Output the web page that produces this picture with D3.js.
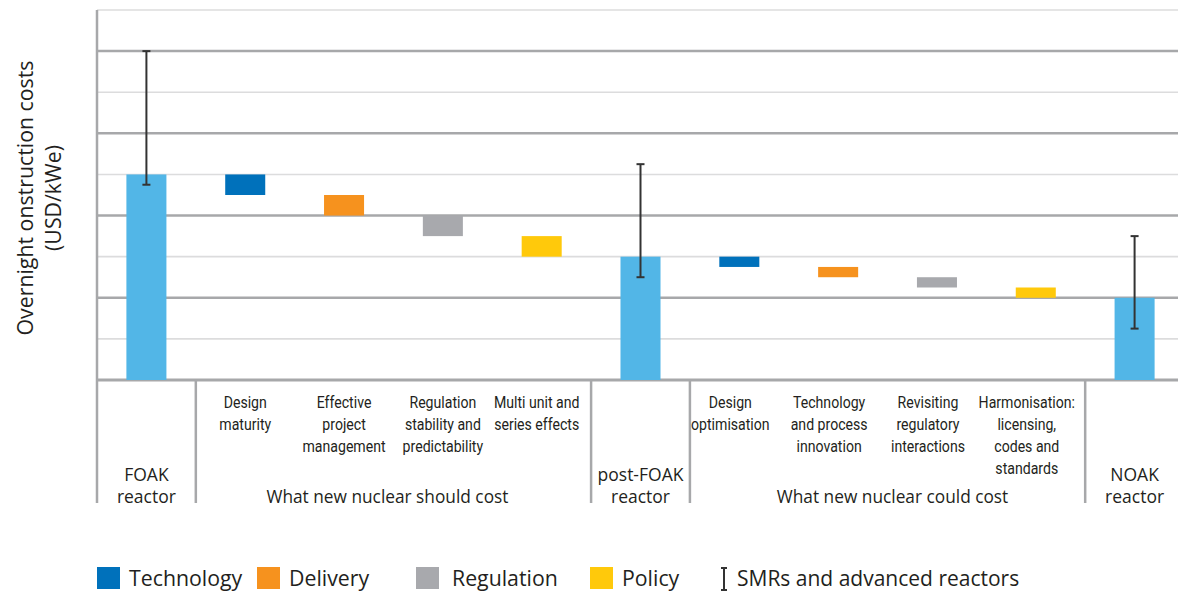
<!DOCTYPE html>
<html>
<head>
<meta charset="utf-8">
<script src="https://cdn.jsdelivr.net/npm/d3@7"></script>
<style>
  body { margin: 0; background: #fff; }
  svg { display: block; }
  .narrow { font-family: Roboto, "Noto Sans", sans-serif; font-size: 17px; fill: #231f20; }
  .reg { font-family: "Open Sans", "Noto Sans", sans-serif; fill: #231f20; }
</style>
</head>
<body>
<svg id="chart" width="1178" height="593"></svg>
<script>
// categories, each label split into lines
var categories = ["FOAK", "DesignMaturity", "ProjectMgmt", "RegStability", "MultiUnit",
                  "postFOAK", "DesignOpt", "TechInnovation", "RegInteractions", "Harmonisation", "NOAK"];
var labelLines = [
  [],
  ["Design", "maturity"],
  ["Effective", "project", "management"],
  ["Regulation", "stability and", "predictability"],
  ["Multi unit  and", "series effects"],
  [],
  ["Design", "optimisation"],
  ["Technology", "and process", "innovation"],
  ["Revisiting", "regulatory", "interactions"],
  ["Harmonisation:", "licensing,", "codes and", "standards"],
  []
];
var reactorLabels = [["FOAK", "reactor"], ["post-FOAK", "reactor"], ["NOAK", "reactor"]];
var groupLabels = ["What new nuclear should cost", "What new nuclear could cost"];

// bar values (arbitrary cost units, waterfall start / end)
var barStart = [0, 5.0, 4.5, 4.0, 3.5, 0, 3.0, 2.75, 2.5, 2.25, 0];
var barEnd   = [5.0, 4.5, 4.0, 3.5, 3.0, 3.0, 2.75, 2.5, 2.25, 2.0, 2.0];
var driver   = ["Reactor", "Technology", "Delivery", "Regulation", "Policy", "Reactor",
                "Technology", "Delivery", "Regulation", "Policy", "Reactor"];
// SMRs and advanced reactors ranges
var errLow  = [4.75, null, null, null, null, 2.5, null, null, null, null, 1.25];
var errHigh = [8.0, null, null, null, null, 5.25, null, null, null, null, 3.5];

var legendItems = ["Technology", "Delivery", "Regulation", "Policy"];

var colors = {
  Reactor: "#52b6e7",
  Technology: "#0071bb",
  Delivery: "#f6921e",
  Regulation: "#a8a9ad",
  Policy: "#ffc90b"
};

var svg = d3.select("#chart");
var plotTop = 10, base = 380, left = 97, right = 1178;

var x = d3.scaleBand()
    .domain(categories)
    .range([left, 1184])
    .paddingInner(0.595)
    .paddingOuter(0.2975);

var y = d3.scaleLinear()
    .domain([0, 9])
    .range([base, plotTop]);

// gridlines
var ticks = d3.range(0, 10);
svg.append("g").selectAll("line")
    .data(ticks)
  .enter().append("line")
    .attr("x1", left).attr("x2", right)
    .attr("y1", function(d) { return y(d); })
    .attr("y2", function(d) { return y(d); })
    .attr("stroke", function(d) { return d % 2 === 0 ? "#a7a8aa" : "#dcdcdd"; })
    .attr("stroke-width", function(d) { return d === 0 ? 3 : (d % 2 === 0 ? 2.5 : 1.6); });

// left axis + separators below
var step = x.step();
var seps = [1, 5, 6, 10];
svg.append("line")
    .attr("x1", left).attr("x2", left)
    .attr("y1", plotTop).attr("y2", 503)
    .attr("stroke", "#a7a8aa").attr("stroke-width", 2.5);
svg.append("g").selectAll("line")
    .data(seps)
  .enter().append("line")
    .attr("x1", function(i) { return x(categories[i]) - (step - x.bandwidth()) / 2; })
    .attr("x2", function(i) { return x(categories[i]) - (step - x.bandwidth()) / 2; })
    .attr("y1", base).attr("y2", 503)
    .attr("stroke", "#a7a8aa").attr("stroke-width", 2.5);

// bars
svg.append("g").selectAll("rect")
    .data(categories)
  .enter().append("rect")
    .attr("x", function(d) { return x(d); })
    .attr("width", x.bandwidth())
    .attr("y", function(d, i) { return y(Math.max(barStart[i], barEnd[i])); })
    .attr("height", function(d, i) { return Math.abs(y(barStart[i]) - y(barEnd[i])); })
    .attr("fill", function(d, i) { return colors[driver[i]]; });

// error bars
var eb = svg.append("g").attr("stroke", "#333").attr("stroke-width", 2);
categories.forEach(function(c, i) {
  if (errLow[i] == null) return;
  var cx = x(c) + x.bandwidth() / 2;
  eb.append("line").attr("x1", cx).attr("x2", cx).attr("y1", y(errLow[i])).attr("y2", y(errHigh[i]));
  eb.append("line").attr("x1", cx - 4).attr("x2", cx + 4).attr("y1", y(errLow[i])).attr("y2", y(errLow[i]));
  eb.append("line").attr("x1", cx - 4).attr("x2", cx + 4).attr("y1", y(errHigh[i])).attr("y2", y(errHigh[i]));
});

// category labels (condensed look via horizontal scale); second group sits a bit left
categories.forEach(function(c, i) {
  var shift = (i >= 6 && i <= 9) ? -9 : (i === 4 ? -5 : 0);
  var cx = x(c) + x.bandwidth() / 2 + shift;
  var t = svg.append("text").attr("class", "narrow").attr("text-anchor", "middle")
      .attr("transform", "translate(" + cx + ",0) scale(0.83,1)");
  labelLines[i].forEach(function(line, j) {
    t.append("tspan").attr("x", 0).attr("y", 408 + j * 22).text(line);
  });
});

// reactor labels
[0, 5, 10].forEach(function(ci, k) {
  var cx = x(categories[ci]) + x.bandwidth() / 2;
  var t = svg.append("text").attr("class", "reg").attr("font-size", 17.5).attr("text-anchor", "middle");
  reactorLabels[k].forEach(function(line, j) {
    t.append("tspan").attr("x", cx).attr("y", 481 + j * 22).text(line);
  });
});

// group labels
var groupShift = [-6, 5];
[[1, 4], [6, 9]].forEach(function(r, k) {
  var cx = (x(categories[r[0]]) + x(categories[r[1]]) + x.bandwidth()) / 2 + groupShift[k];
  svg.append("text").attr("class", "reg").attr("font-size", 17.3)
    .attr("text-anchor", "middle").attr("x", cx).attr("y", 503).text(groupLabels[k]);
});

// y axis title
var yt = svg.append("text").attr("class", "reg").attr("font-size", 21.3)
    .attr("text-anchor", "middle")
    .attr("transform", "translate(0,198) rotate(-90)");
yt.append("tspan").attr("x", 0).attr("y", 33).text("Overnight onstruction costs");
yt.append("tspan").attr("x", 0).attr("y", 61).text("(USD/kWe)");

// legend
var legX = [97, 257, 416, 590];
var lg = svg.append("g");
legendItems.forEach(function(name, i) {
  lg.append("rect").attr("x", legX[i]).attr("y", 567).attr("width", 23).attr("height", 22)
    .attr("fill", colors[name]);
  lg.append("text").attr("class", "reg").attr("font-size", 21.3)
    .attr("x", legX[i] + (i === 2 ? 36 : 32)).attr("y", 586).text(name);
});
lg.append("line").attr("x1", 724).attr("x2", 724).attr("y1", 568).attr("y2", 590)
  .attr("stroke", "#333").attr("stroke-width", 2);
lg.append("line").attr("x1", 721).attr("x2", 727).attr("y1", 568).attr("y2", 568)
  .attr("stroke", "#333").attr("stroke-width", 2);
lg.append("line").attr("x1", 721).attr("x2", 727).attr("y1", 590).attr("y2", 590)
  .attr("stroke", "#333").attr("stroke-width", 2);
lg.append("text").attr("class", "reg").attr("font-size", 21)
  .attr("x", 737).attr("y", 586).text("SMRs and advanced reactors");
</script>
</body>
</html>
